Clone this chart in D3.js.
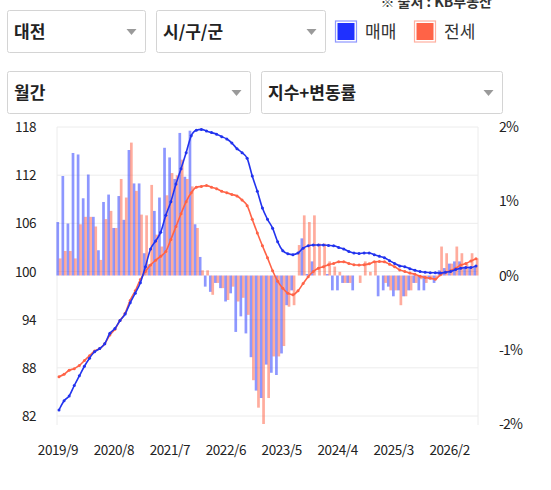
<!DOCTYPE html>
<html><head><meta charset="utf-8">
<script src="https://cdn.jsdelivr.net/npm/d3@7/dist/d3.min.js"></script>
<style>
html,body{margin:0;padding:0;background:#fff;}
svg{display:block;font-family:"Noto Sans CJK KR","Noto Sans",sans-serif;}
</style></head>
<body>
<svg id="chart" width="551" height="490"></svg>
<script>
const months = ["2019/9","2019/10","2019/11","2019/12","2020/1","2020/2","2020/3","2020/4","2020/5","2020/6","2020/7","2020/8","2020/9","2020/10","2020/11","2020/12",
"2021/1","2021/2","2021/3","2021/4","2021/5","2021/6","2021/7","2021/8","2021/9","2021/10","2021/11","2021/12",
"2022/1","2022/2","2022/3","2022/4","2022/5","2022/6","2022/7","2022/8","2022/9","2022/10","2022/11","2022/12",
"2023/1","2023/2","2023/3","2023/4","2023/5","2023/6","2023/7","2023/8","2023/9","2023/10","2023/11","2023/12",
"2024/1","2024/2","2024/3","2024/4","2024/5","2024/6","2024/7","2024/8","2024/9","2024/10","2024/11","2024/12",
"2025/1","2025/2","2025/3","2025/4","2025/5","2025/6","2025/7","2025/8","2025/9","2025/10","2025/11","2025/12",
"2026/1","2026/2","2026/3","2026/4","2026/5","2026/6","2026/7"];

const xTickLabels = ["2019/9","2020/8","2021/7","2022/6","2023/5","2024/4","2025/3","2026/2"];
const leftTicks = [82,88,94,100,106,112,118];
const rightTicks = [-2,-1,0,1,2];

// 매매 index
const saleIndex = [82.75,83.9,84.5,85.8,87.0,88.2,89.2,90.0,90.4,91.0,92.3,92.9,93.9,94.7,96.1,97.3,
98.6,100.6,102.8,103.8,104.9,107.0,108.7,110.9,112.8,114.8,116.9,117.6,
117.7,117.5,117.3,117.1,116.8,116.5,116.0,115.3,114.8,114.1,111.9,110.0,
107.9,106.5,105.4,103.7,102.6,102.2,102.1,102.3,102.9,103.2,103.3,103.3,
103.3,103.25,103.2,103.0,102.8,102.5,102.3,102.25,102.3,102.3,102.1,101.9,
101.7,101.35,101.0,100.7,100.6,100.35,100.15,100.0,99.9,99.85,99.85,99.8,
99.9,100.0,100.25,100.4,100.5,100.5,100.7];
// 전세 index
const jeonseIndex = [86.9,87.2,87.7,87.9,88.3,88.9,89.5,90.1,90.4,91.0,92.1,92.8,93.9,94.8,96.4,97.6,
99.0,100.0,100.8,101.4,101.9,102.5,104.0,105.6,107.2,108.7,109.8,110.5,
110.6,110.7,110.5,110.3,110.0,109.8,109.6,109.4,108.9,108.2,106.5,104.8,
103.2,101.7,100.1,98.8,97.9,97.3,97.1,97.6,98.5,99.35,100.0,100.4,
100.6,100.85,101.0,101.2,101.2,101.0,100.85,100.8,100.85,100.95,101.2,101.25,
101.2,100.9,100.6,100.2,100.0,99.8,99.65,99.4,99.25,99.15,99.05,99.6,
99.9,100.1,100.4,100.8,101.0,101.3,101.6];
// 매매 monthly change (%)
const saleChange = [0.72,1.34,0.70,1.65,1.63,1.04,1.36,0.79,0.34,0.99,1.09,0.64,1.07,0.75,1.69,1.24,
1.24,0.30,0.15,0.87,1.05,1.72,1.59,1.30,1.92,1.33,1.95,0.69,
0.25,-0.15,-0.22,-0.10,-0.17,-0.35,-0.24,-0.76,-0.55,-0.78,-1.10,-1.55,
-1.65,-1.20,-1.31,-1.34,-1.05,-0.40,-0.20,0.00,0.50,0.02,0.19,0.00,
0.00,0.02,-0.20,-0.20,-0.10,-0.10,-0.20,0.00,0.00,0.00,0.00,-0.28,
-0.20,-0.15,-0.28,-0.20,-0.28,-0.20,-0.10,-0.20,-0.20,-0.05,-0.10,0.07,
0.10,0.16,0.19,0.19,0.12,0.12,0.12];
// 전세 monthly change (%)
const jeonseChange = [0.23,0.33,0.33,0.23,0.69,0.79,0.79,0.66,0.21,0.76,0.87,0.64,1.30,1.05,1.79,1.14,
0.82,0.81,1.22,0.55,0.39,1.08,1.38,1.35,1.56,1.30,1.20,0.64,
0.07,0.07,-0.26,-0.10,-0.17,-0.33,-0.15,-0.35,-0.30,-0.53,-1.41,-1.78,
-2.00,-1.65,-1.09,-1.09,-0.95,-0.42,-0.40,0.41,0.81,0.72,0.81,0.43,
0.43,0.19,0.12,0.05,-0.10,-0.10,0.00,-0.10,0.19,0.05,0.19,0.00,
-0.10,-0.20,-0.20,-0.40,-0.28,-0.20,-0.10,-0.05,-0.10,-0.05,-0.05,0.39,
0.30,0.16,0.39,0.30,0.16,0.30,0.23];

const svg = d3.select("#chart");
const plotL = 57, plotR = 478, plotT = 127, plotB = 425;

const x = d3.scalePoint().domain(months).range([59, 476]);
const yL = d3.scaleLinear().domain([82, 118]).range([416, 127]);
const yR = d3.scaleLinear().domain([-2, 2]).range([424, 127]);

const BLUE = "#2233ee", RED = "#ff6347";

// ---- top controls ----
const boxes = [
  {x:7.5, y:10.5, w:138, h:42, t:"대전"},
  {x:156.5, y:10.5, w:169, h:42, t:"시/구/군"},
  {x:7.5, y:71.5, w:243, h:42, t:"월간"},
  {x:261.5, y:71.5, w:241, h:42, t:"지수+변동률"}
];
boxes.forEach(b => {
  const g = svg.append("g");
  g.append("rect").attr("x", b.x).attr("y", b.y).attr("width", b.w).attr("height", b.h)
    .attr("rx", 2).attr("fill", "#fff").attr("stroke", "#d4d4d4");
  g.append("text").attr("x", b.x + 6.5).attr("y", b.y + b.h/2 + 6)
    .attr("font-size", 17).attr("font-weight", 700).attr("fill", "#222").text(b.t);
  const ax = b.x + b.w - 14, ay = b.y + b.h/2 - 2.5;
  g.append("path").attr("d", `M${ax-5},${ay} L${ax+5},${ay} L${ax},${ay+6} Z`).attr("fill", "#9a9a9a");
});

svg.append("text").attr("x", 492).attr("y", 7).attr("text-anchor", "end")
  .attr("font-size", 14).attr("font-weight", 700).attr("fill", "#333").text("※ 출처 : KB부동산");

const legend = [{x:335, c:"#1f30ff", s:"#8e97ff", t:"매매"}, {x:414, c:"#ff6347", s:"#ffb0a0", t:"전세"}];
legend.forEach(l => {
  svg.append("rect").attr("x", l.x + 0.5).attr("y", 21).attr("width", 21).attr("height", 21)
    .attr("fill", "#fff").attr("stroke", l.s).attr("stroke-width", 1.2);
  svg.append("rect").attr("x", l.x + 2.5).attr("y", 23).attr("width", 17).attr("height", 17).attr("fill", l.c);
  svg.append("text").attr("x", l.x + 30).attr("y", 38).attr("font-size", 17).attr("fill", "#333").text(l.t);
});

// ---- grid ----
svg.append("g").selectAll("line").data(leftTicks).join("line")
  .attr("x1", plotL).attr("x2", plotR).attr("y1", d => yL(d)).attr("y2", d => yL(d))
  .attr("stroke", "#ececec").attr("stroke-width", 1);
svg.append("line").attr("x1", plotL).attr("x2", plotL).attr("y1", plotT).attr("y2", plotB).attr("stroke", "#ececec");
svg.append("line").attr("x1", plotR).attr("x2", plotR).attr("y1", plotT).attr("y2", plotB).attr("stroke", "#ececec");

// ---- bars ----
const bw = 2.7;
const zero = yR(0);
svg.append("g").selectAll("rect").data(months).join("rect")
  .attr("x", (d) => x(d) - 2.6)
  .attr("width", bw)
  .attr("y", (d, i) => Math.min(yR(saleChange[i]), zero))
  .attr("height", (d, i) => Math.abs(yR(saleChange[i]) - zero))
  .attr("fill", "#3b4cff").attr("fill-opacity", 0.58);
svg.append("g").selectAll("rect").data(months).join("rect")
  .attr("x", (d) => x(d) - 0.2)
  .attr("width", bw)
  .attr("y", (d, i) => Math.min(yR(jeonseChange[i]), zero))
  .attr("height", (d, i) => Math.abs(yR(jeonseChange[i]) - zero))
  .attr("fill", "#ff5a3c").attr("fill-opacity", 0.5);

// ---- lines ----
function drawLine(vals, color) {
  const line = d3.line().x((d, i) => x(months[i])).y(d => yL(d)).curve(d3.curveMonotoneX);
  svg.append("path").datum(vals).attr("d", line).attr("fill", "none")
    .attr("stroke", color).attr("stroke-width", 1.6);
  svg.append("g").selectAll("circle").data(vals).join("circle")
    .attr("cx", (d, i) => x(months[i])).attr("cy", d => yL(d)).attr("r", 1.5).attr("fill", color);
}
drawLine(jeonseIndex, RED);
drawLine(saleIndex, BLUE);

// ---- axes labels ----
svg.append("g").selectAll("text").data(leftTicks).join("text")
  .attr("x", 36).attr("y", d => yL(d) + 5).attr("text-anchor", "end")
  .attr("font-size", 13.5).attr("fill", "#222").attr("letter-spacing", -0.5).text(d => d);
svg.append("g").selectAll("text").data(rightTicks).join("text")
  .attr("x", 499).attr("y", d => yR(d) + 5).attr("text-anchor", "start")
  .attr("font-size", 14).attr("fill", "#222").attr("letter-spacing", -0.8).text(d => d + "%");
svg.append("g").selectAll("text").data(xTickLabels).join("text")
  .attr("x", d => x(d) - 1).attr("y", 455).attr("text-anchor", "middle")
  .attr("font-size", 13.5).attr("fill", "#222").attr("letter-spacing", -0.4).text(d => d);
</script>
</body></html>
